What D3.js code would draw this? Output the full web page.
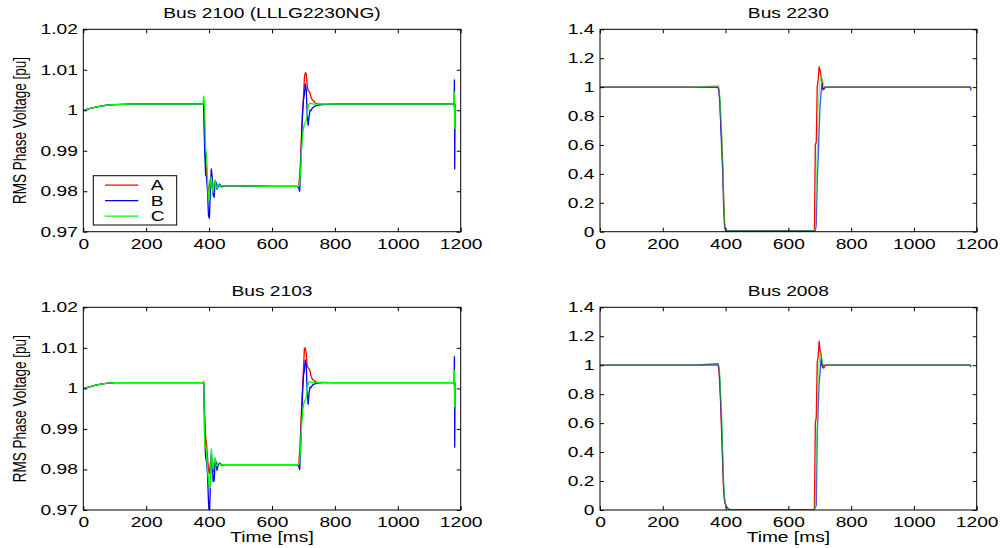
<!DOCTYPE html>
<html>
<head>
<meta charset="utf-8">
<script src="https://cdn.jsdelivr.net/npm/d3@7"></script>
<style>
  html, body { margin: 0; padding: 0; background: #fff; }
  svg { display: block; font-family: "Liberation Sans", Arial, Helvetica, sans-serif; }
</style>
</head>
<body>
<svg id="root" width="1000" height="548"></svg>
<script>
// time axis [ms]
const xTicks = [0, 200, 400, 600, 800, 1000, 1200];
const yTicksLeft = [0.97, 0.98, 0.99, 1.0, 1.01, 1.02];
const yTicksRight = [0, 0.2, 0.4, 0.6, 0.8, 1.0, 1.2, 1.4];
const phaseNames = ["A", "B", "C"];
const titles = ["Bus 2100 (LLLG2230NG)", "Bus 2230", "Bus 2103", "Bus 2008"];

const tLeft = [0, 20, 40, 60, 80, 100, 150, 200, 300, 380,
  383, 386, 389, 392, 395, 398,
  401, 404, 407, 410, 413, 416, 419, 422, 425, 428,
  432, 436, 440, 450, 500, 600, 680,
  685, 688, 691, 694, 697, 700,
  703, 706, 709, 712, 715, 718,
  721, 724, 728, 732, 736, 740,
  745, 750, 760, 800, 900, 1000, 1100,
  1177, 1179, 1180, 1181, 1182];

const bus2100A = [1.0000, 1.0004, 1.0008, 1.0011, 1.0013, 1.0014, 1.0015, 1.0015, 1.0015, 1.0015,
  1.0015, 0.9920, 0.9870, 0.9850, 0.9820, 0.9795,
  0.9810, 0.9830, 0.9825, 0.9805, 0.9800, 0.9815, 0.9822, 0.9818, 0.9810, 0.9815,
  0.9814, 0.9812, 0.9813, 0.9813, 0.9813, 0.9812, 0.9812,
  0.9812, 0.9840, 0.9880, 0.9940, 0.9990, 1.0030,
  1.0080, 1.0093, 1.0090, 1.0060, 1.0048, 1.0047,
  1.0042, 1.0032, 1.0026, 1.0024, 1.0019, 1.0017,
  1.0016, 1.0015, 1.0015, 1.0015, 1.0015, 1.0015, 1.0015,
  1.0015, 1.0012, 1.0020, 1.0008, 1.0015];
const bus2100B = [1.0000, 1.0004, 1.0008, 1.0011, 1.0013, 1.0014, 1.0015, 1.0015, 1.0015, 1.0015,
  1.0012, 0.9900, 0.9840, 0.9835, 0.9800, 0.9740,
  0.9733, 0.9800, 0.9855, 0.9835, 0.9790, 0.9785, 0.9826, 0.9822, 0.9805, 0.9810,
  0.9818, 0.9815, 0.9811, 0.9813, 0.9813, 0.9812, 0.9812,
  0.9808, 0.9800, 0.9850, 0.9930, 0.9990, 1.0025,
  1.0040, 1.0065, 1.0050, 0.9990, 0.9963, 0.9985,
  1.0000, 0.9999, 1.0005, 1.0008, 1.0010, 1.0011,
  1.0012, 1.0013, 1.0014, 1.0015, 1.0015, 1.0015, 1.0015,
  1.0015, 1.0010, 1.0075, 0.9855, 1.0015];
const bus2100C = [1.0000, 1.0004, 1.0008, 1.0011, 1.0013, 1.0014, 1.0015, 1.0015, 1.0015, 1.0015,
  1.0035, 1.0000, 0.9905, 0.9890, 0.9830, 0.9778,
  0.9800, 0.9820, 0.9835, 0.9810, 0.9797, 0.9822, 0.9828, 0.9810, 0.9808, 0.9816,
  0.9815, 0.9812, 0.9813, 0.9813, 0.9813, 0.9812, 0.9812,
  0.9812, 0.9820, 0.9855, 0.9900, 0.9935, 0.9955,
  0.9965, 0.9970, 0.9975, 0.9990, 1.0010, 1.0016,
  1.0017, 1.0017, 1.0016, 1.0015, 1.0015, 1.0015,
  1.0015, 1.0015, 1.0015, 1.0015, 1.0015, 1.0015, 1.0015,
  1.0015, 1.0012, 1.0045, 0.9955, 1.0015];

const bus2103A = [1.0000, 1.0004, 1.0008, 1.0011, 1.0013, 1.0014, 1.0014, 1.0014, 1.0014, 1.0014,
  1.0015, 0.9935, 0.9880, 0.9860, 0.9830, 0.9800,
  0.9790, 0.9815, 0.9830, 0.9805, 0.9795, 0.9815, 0.9825, 0.9815, 0.9808, 0.9814,
  0.9813, 0.9812, 0.9812, 0.9812, 0.9812, 0.9812, 0.9812,
  0.9812, 0.9845, 0.9890, 0.9950, 1.0000, 1.0045,
  1.0099, 1.0099, 1.0085, 1.0055, 1.0051, 1.0048,
  1.0043, 1.0030, 1.0023, 1.0020, 1.0018, 1.0016,
  1.0015, 1.0015, 1.0015, 1.0014, 1.0014, 1.0014, 1.0014,
  1.0014, 1.0012, 1.0020, 1.0008, 1.0014];
const bus2103B = [1.0000, 1.0004, 1.0008, 1.0011, 1.0013, 1.0014, 1.0014, 1.0014, 1.0014, 1.0014,
  1.0012, 0.9880, 0.9830, 0.9820, 0.9790, 0.9720,
  0.9685, 0.9760, 0.9840, 0.9820, 0.9770, 0.9772, 0.9815, 0.9820, 0.9798, 0.9808,
  0.9816, 0.9814, 0.9811, 0.9812, 0.9812, 0.9812, 0.9812,
  0.9808, 0.9800, 0.9850, 0.9930, 0.9985, 1.0030,
  1.0045, 1.0070, 1.0055, 0.9990, 0.9961, 0.9990,
  1.0003, 1.0002, 1.0007, 1.0010, 1.0011, 1.0012,
  1.0013, 1.0013, 1.0014, 1.0014, 1.0014, 1.0014, 1.0014,
  1.0014, 1.0010, 1.0078, 0.9855, 1.0014];
const bus2103C = [1.0000, 1.0004, 1.0008, 1.0011, 1.0013, 1.0014, 1.0014, 1.0014, 1.0014, 1.0014,
  1.0018, 0.9855, 0.9860, 0.9840, 0.9800, 0.9775,
  0.9760, 0.9755, 0.9850, 0.9820, 0.9800, 0.9818, 0.9830, 0.9812, 0.9808, 0.9815,
  0.9814, 0.9812, 0.9812, 0.9812, 0.9812, 0.9812, 0.9812,
  0.9812, 0.9820, 0.9860, 0.9905, 0.9940, 0.9958,
  0.9968, 0.9972, 0.9978, 0.9995, 1.0012, 1.0016,
  1.0016, 1.0016, 1.0015, 1.0014, 1.0014, 1.0014,
  1.0014, 1.0014, 1.0014, 1.0014, 1.0014, 1.0014, 1.0014,
  1.0014, 1.0012, 1.0045, 0.9955, 1.0014];

const tRight = [0, 100, 200, 300,
  376, 379, 382, 385, 388, 391, 394, 397,
  400, 403, 407, 412, 420,
  450, 500, 600, 680,
  683, 686, 689, 692, 695, 698, 701,
  704, 707, 710, 713, 716, 720, 725, 730,
  800, 1000, 1179, 1181, 1182];

const bus2230A = [1, 1, 1, 1,
  1.0, 0.98, 0.88, 0.74, 0.62, 0.45, 0.22, 0.05,
  0.01, 0.006, 0.005, 0.005, 0.005,
  0.005, 0.005, 0.005, 0.005,
  0.01, 0.60, 0.62, 1.00, 1.05, 1.14, 1.12,
  1.08, 1.04, 0.99, 0.985, 0.995, 1.0, 1.0, 1.0,
  1, 1, 1, 1, 1];
const bus2230B = [1, 1, 1, 1,
  1.0, 0.97, 0.90, 0.70, 0.55, 0.40, 0.15, 0.03,
  0.008, 0.005, 0.005, 0.005, 0.005,
  0.005, 0.005, 0.005, 0.005,
  0.005, 0.005, 0.05, 0.35, 0.50, 0.70, 0.87,
  0.95, 1.025, 0.98, 0.99, 1.0, 1.0, 1.0, 1.0,
  1, 1, 1, 0.98, 1.0];
const bus2230C = [1, 1, 1, 1,
  1.01, 1.0, 0.93, 0.80, 0.68, 0.50, 0.25, 0.06,
  0.01, 0.006, 0.005, 0.005, 0.005,
  0.005, 0.005, 0.005, 0.005,
  0.005, 0.02, 0.35, 0.55, 0.85, 0.95, 1.05,
  1.077, 1.06, 1.04, 1.01, 1.0, 1.0, 1.0, 1.0,
  1, 1, 1, 1, 1];

const bus2008A = [1, 1, 1, 1,
  1.0, 0.97, 0.85, 0.70, 0.50, 0.30, 0.12, 0.06,
  0.035, 0.02, 0.01, 0.005, 0.003,
  0.003, 0.003, 0.003, 0.003,
  0.01, 0.60, 0.64, 1.02, 1.06, 1.167, 1.10,
  1.08, 1.00, 0.985, 0.98, 0.995, 1.0, 1.0, 1.0,
  1, 1, 1, 1, 1];
const bus2008B = [1, 1, 1, 1,
  1.01, 0.98, 0.88, 0.72, 0.55, 0.35, 0.15, 0.07,
  0.04, 0.025, 0.012, 0.005, 0.003,
  0.003, 0.003, 0.003, 0.003,
  0.003, 0.02, 0.03, 0.50, 0.70, 0.87, 0.95,
  1.04, 1.00, 0.99, 1.005, 1.0, 1.0, 1.0, 1.0,
  1, 1, 1, 0.99, 1.0];
const bus2008C = [1, 1, 1, 1,
  1.0, 1.0, 0.93, 0.78, 0.65, 0.40, 0.18, 0.08,
  0.04, 0.025, 0.012, 0.005, 0.003,
  0.003, 0.003, 0.003, 0.003,
  0.003, 0.05, 0.40, 0.60, 0.90, 1.00, 1.087,
  1.06, 1.05, 1.0, 1.0, 1.0, 1.0, 1.0, 1.0,
  1, 1, 1, 1, 1];

(function () {
  const svg = d3.select("#root");
  const SX = 1.37;              // the original figure is stretched horizontally
  const colors = ["#ff0000", "#0000ff", "#00ff00"];
  const fmt = d => String(+d.toFixed(3));

  // layout of the four axes boxes (pixels)
  const boxes = [
    { x0: 83.3, x1: 460.7, y0: 29.3, y1: 231.7 },
    { x0: 600, x1: 976.7, y0: 29.3, y1: 231.7 },
    { x0: 83.3, x1: 460.7, y0: 307.3, y1: 510 },
    { x0: 600, x1: 976.7, y0: 307.3, y1: 510 }
  ];

  const panels = [
    { time: tLeft, series: [bus2100A, bus2100B, bus2100C], yTicks: yTicksLeft, op: [1, 1, 1], ylabel: true, xlabel: false, legend: true },
    { time: tRight, series: [bus2230A, bus2230B, bus2230C], yTicks: yTicksRight, op: [1, 0.7, 0.55], ylabel: false, xlabel: false, legend: false },
    { time: tLeft, series: [bus2103A, bus2103B, bus2103C], yTicks: yTicksLeft, op: [1, 1, 1], ylabel: true, xlabel: true, legend: false },
    { time: tRight, series: [bus2008A, bus2008B, bus2008C], yTicks: yTicksRight, op: [1, 0.7, 0.55], ylabel: false, xlabel: true, legend: false }
  ];

  panels.forEach((p, i) => drawPanel(p, boxes[i], titles[i], i));

  function stretchedText(g, x, y, txt, anchor, size) {
    return g.append("text")
      .attr("transform", `translate(${x},${y}) scale(${SX},1)`)
      .attr("text-anchor", anchor)
      .style("font-size", size + "px")
      .attr("fill", "#000")
      .text(txt);
  }

  function drawPanel(p, b, title, idx) {
    let x = d3.scaleLinear().domain([xTicks[0], xTicks[xTicks.length - 1]]).range([b.x0, b.x1]);
    let y = d3.scaleLinear().domain(d3.extent(p.yTicks)).range([b.y1, b.y0]);

    let g = svg.append("g");

    g.append("rect")
      .attr("x", b.x0).attr("y", b.y0)
      .attr("width", b.x1 - b.x0).attr("height", b.y1 - b.y0)
      .attr("fill", "#fff");

    let clipId = "clip" + idx;
    g.append("clipPath").attr("id", clipId)
      .append("rect")
      .attr("x", b.x0).attr("y", b.y0)
      .attr("width", b.x1 - b.x0).attr("height", b.y1 - b.y0);

    let line = d3.line()
      .x((d, i) => x(p.time[i]))
      .y(d => y(d));

    let lines = g.append("g").attr("clip-path", `url(#${clipId})`);
    p.series.forEach((s, k) => {
      lines.append("path")
        .datum(s)
        .attr("d", line)
        .attr("fill", "none")
        .attr("stroke", colors[k])
        .attr("stroke-opacity", p.op[k])
        .attr("stroke-width", 1.3)
        .attr("stroke-linejoin", "round");
    });

    // axes, ticks pointing inwards
    let axB = g.append("g")
      .attr("transform", `translate(0,${b.y1})`)
      .call(d3.axisBottom(x).tickValues(xTicks).tickFormat(d => d).tickSizeInner(-4).tickSizeOuter(0).tickPadding(7));
    let axL = g.append("g")
      .attr("transform", `translate(${b.x0},0)`)
      .call(d3.axisLeft(y).tickValues(p.yTicks).tickFormat(fmt).tickSizeInner(-4).tickSizeOuter(0).tickPadding(4));
    let axT = g.append("g")
      .attr("transform", `translate(0,${b.y0})`)
      .call(d3.axisTop(x).tickValues(xTicks).tickFormat(() => "").tickSizeInner(-4).tickSizeOuter(0));
    let axR = g.append("g")
      .attr("transform", `translate(${b.x1},0)`)
      .call(d3.axisRight(y).tickValues(p.yTicks).tickFormat(() => "").tickSizeInner(-4).tickSizeOuter(0));

    [axB, axL, axT, axR].forEach(a => {
      a.attr("font-family", null).attr("font-size", null).style("color", "#000");
      a.select(".domain").remove();
      a.selectAll("text")
        .style("font-size", "14px")
        .attr("fill", "#000")
        .attr("transform", `scale(${SX},1)`);
    });

    g.append("rect")
      .attr("x", b.x0).attr("y", b.y0)
      .attr("width", b.x1 - b.x0).attr("height", b.y1 - b.y0)
      .attr("fill", "none")
      .attr("stroke", "#000")
      .attr("stroke-width", 1);

    let cx = (b.x0 + b.x1) / 2;
    stretchedText(g, cx, b.y0 - 11, title, "middle", 14);

    if (p.xlabel) {
      stretchedText(g, cx, b.y1 + 32, "Time [ms]", "middle", 14);
    }

    if (p.ylabel) {
      g.append("text")
        .attr("transform", `translate(${b.x0 - 57},${(b.y0 + b.y1) / 2}) scale(${SX},1) rotate(-90)`)
        .attr("text-anchor", "middle")
        .style("font-size", "13.5px")
        .attr("fill", "#000")
        .text("RMS Phase Voltage [pu]");
    }

    if (p.legend) {
      let lg = g.append("g");
      let lx = b.x0 + 10, ly = b.y0 + 146.4;
      lg.append("rect")
        .attr("x", lx).attr("y", ly)
        .attr("width", 83.4).attr("height", 49.3)
        .attr("fill", "#fff")
        .attr("stroke", "#000");
      phaseNames.forEach((name, k) => {
        let yy = ly + 9.5 + k * 15.5;
        lg.append("line")
          .attr("x1", lx + 11.7).attr("x2", lx + 45)
          .attr("y1", yy).attr("y2", yy)
          .attr("stroke", colors[k])
          .attr("stroke-width", 1.2);
        stretchedText(lg, lx + 57.4, yy + 5, name, "start", 14);
      });
    }
  }
})();
</script>
</body>
</html>
